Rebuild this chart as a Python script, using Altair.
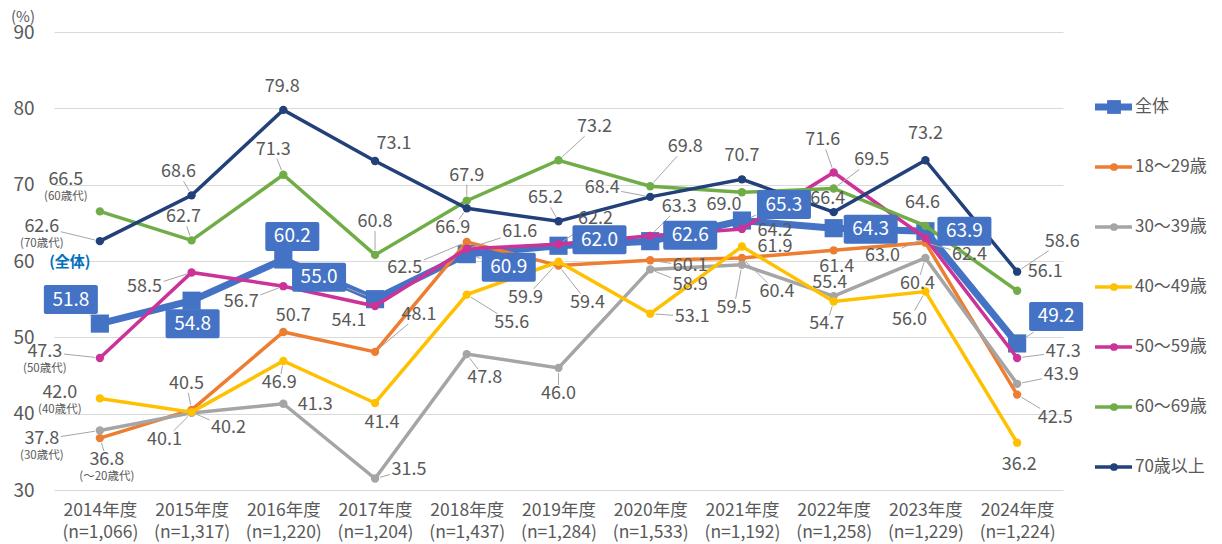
import json
import math
import pandas as pd
import altair as alt

# ---------------- data ----------------
years = ["2014年度", "2015年度", "2016年度", "2017年度", "2018年度", "2019年度",
         "2020年度", "2021年度", "2022年度", "2023年度", "2024年度"]
sample_sizes = ["(n=1,066)", "(n=1,317)", "(n=1,220)", "(n=1,204)", "(n=1,437)", "(n=1,284)",
                "(n=1,533)", "(n=1,192)", "(n=1,258)", "(n=1,229)", "(n=1,224)"]
series_names = ["全体", "18～29歳", "30～39歳", "40～49歳", "50～59歳", "60～69歳", "70歳以上"]

total     = [51.8, 54.8, 60.2, 55.0, 60.9, 62.0, 62.6, 65.3, 64.3, 63.9, 49.2]
age_18_29 = [36.8, 40.5, 50.7, 48.1, 62.5, 59.4, 60.1, 60.4, 61.4, 62.4, 42.5]
age_30_39 = [37.8, 40.1, 41.3, 31.5, 47.8, 46.0, 58.9, 59.5, 55.4, 60.4, 43.9]
age_40_49 = [42.0, 40.2, 46.9, 41.4, 55.6, 59.9, 53.1, 61.9, 54.7, 56.0, 36.2]
age_50_59 = [47.3, 58.5, 56.7, 54.1, 61.6, 62.2, 63.3, 64.2, 71.6, 63.0, 47.3]
age_60_69 = [66.5, 62.7, 71.3, 60.8, 67.9, 73.2, 69.8, 69.0, 69.5, 64.6, 56.1]
age_70_up = [62.6, 68.6, 79.8, 73.1, 66.9, 65.2, 68.4, 70.7, 66.4, 73.2, 58.6]

series_values = [total, age_18_29, age_30_39, age_40_49, age_50_59, age_60_69, age_70_up]
first_year_notes = ["", "(～20歳代)", "(30歳代)", "(40歳代)", "(50歳代)", "(60歳代)", "(70歳代)"]
unit_label = "(%)"

# ---------------- styles ----------------
colors = ["#4472C4", "#ED7D31", "#A5A5A5", "#FFC000", "#CC3399", "#70AD47", "#22407A"]
FONT = "Noto Sans CJK JP"
TEXT_COLOR = "#595959"

# label layout: pixel offset of each data label from its point (dx, dy, leader line?)
label_layout = [
    [(-29, -24, 1), (1, 23, 1), (9, -23, 1), (-56, -22, 1), (42, 13, 1), (41, -6, 0),
     (40, -6, 0), (42, -16, 1), (37, 1, 0), (39, 0, 0), (39, -27, 1)],
    [(7, 22, 1), (-5, -26, 1), (10, -16, 0), (44, -37, 1), (-62, 26, 1), (29, 37, 1),
     (40, 6, 1), (35, 34, 1), (3, 17, 0), (44, 12, 1), (38, 23, 1)],
    [(-58, 9, 1), (-27, 27, 1), (32, 1, 0), (34, -9, 1), (18, 24, 1), (0, 26, 1),
     (40, 16, 1), (-8, 43, 1), (-4, -13, 0), (-8, 26, 1), (44, -9, 1)],
    [(-40, -5, 0), (37, 16, 1), (-4, 22, 1), (7, 20, 0), (45, 28, 1), (-33, 36, 1),
     (42, 3, 1), (33, 1, 0), (-7, 23, 1), (-16, 28, 1), (2, 22, 0)],
    [(-55, -6, 1), (-47, 15, 1), (-42, 16, 1), (-26, 15, 0), (53, -17, 1), (37, -25, 1),
     (29, -29, 1), (33, 2, 0), (-11, -32, 1), (-43, 18, 1), (46, -6, 1)],
    [(-34, -31, 0), (-8, -23, 1), (-10, -25, 1), (0, -33, 1), (0, -25, 1), (36, -33, 1),
     (35, -39, 1), (-18, 13, 0), (38, -28, 1), (-3, -23, 0), (28, -19, 0)],
    [(-58, -14, 1), (-13, -23, 1), (-1, -23, 0), (19, -17, 0), (-14, 20, 1), (-13, -23, 1),
     (-48, -9, 1), (0, -23, 0), (-6, -13, 0), (0, -26, 0), (45, -30, 1)],
]

W, H = 1009, 458
XMIN, XMAX = -0.5, 10.5
YMIN, YMAX = 30, 90
PX_X = W / (XMAX - XMIN)
PX_Y = H / (YMAX - YMIN)
BOX_W, BOX_H = 54, 29

pts, labels, leaders, boxes, notes = [], [], [], [], []
for si, (name, vals) in enumerate(zip(series_names, series_values)):
    for i, v in enumerate(vals):
        pts.append({"series": name, "si": si, "xi": i, "value": v})
        dx, dy, lead = label_layout[si][i]
        lx = i + dx / PX_X
        ly = v - dy / PX_Y
        labels.append({"series": name, "si": si, "lx": lx, "ly": ly, "txt": f"{v:.1f}"})
        if si == 0:
            boxes.append({"bx1": lx - BOX_W / 2 / PX_X, "bx2": lx + BOX_W / 2 / PX_X,
                          "by1": ly - BOX_H / 2 / PX_Y, "by2": ly + BOX_H / 2 / PX_Y})
        if i == 0 and first_year_notes[si]:
            notes.append({"nx": lx, "ny": ly - 17 / PX_Y, "note": first_year_notes[si]})
        if lead:
            dist = math.hypot(dx, dy)
            hw, hh = (BOX_W / 2 + 1, BOX_H / 2 + 1) if si == 0 else (19, 9)
            t = min(hw / abs(dx) if dx else 1e9, hh / abs(dy) if dy else 1e9)
            ex, ey = dx * (1 - t), dy * (1 - t)
            s0 = (10 if si == 0 else 5) / dist
            sx, sy = dx * s0, dy * s0
            if math.hypot(ex, ey) > math.hypot(sx, sy) + 2:
                leaders.append({"x1": i + sx / PX_X, "y1": v - sy / PX_Y,
                                "x2": i + ex / PX_X, "y2": v - ey / PX_Y})

pts_df = pd.DataFrame(pts)
labels_df = pd.DataFrame(labels)
leaders_df = pd.DataFrame(leaders)
boxes_df = pd.DataFrame(boxes)
notes_df = pd.DataFrame(notes)
total_note = pd.DataFrame([{"nx": 0 - 30 / PX_X, "ny": total[0] + 62 / PX_Y, "note": "(全体)"}])
unit_df = pd.DataFrame([{"nx": XMIN - 43 / PX_X, "ny": YMAX + 15 / PX_Y, "note": unit_label}])

x_label_expr = ("[" + json.dumps(years, ensure_ascii=False) + "[datum.value], "
                + json.dumps(sample_sizes, ensure_ascii=False) + "[datum.value]]")

xscale = alt.Scale(domain=[XMIN, XMAX], nice=False, zero=False)
yscale = alt.Scale(domain=[YMIN, YMAX], nice=False, zero=False)
xaxis = alt.Axis(values=list(range(11)), labelExpr=x_label_expr, title=None, grid=False,
                 domain=False, ticks=False, labelPadding=11, labelFontSize=17.5,
                 labelLineHeight=22, labelColor=TEXT_COLOR, labelFont=FONT)
yaxis = alt.Axis(values=list(range(30, 91, 10)), title=None,
                 grid=True, gridColor="#D9D9D9", gridWidth=1, domain=False, ticks=False,
                 labelPadding=20, labelFontSize=19, labelColor=TEXT_COLOR, labelFont=FONT)


def X(field):
    return alt.X(f"{field}:Q", scale=xscale, axis=xaxis)


def Y(field):
    return alt.Y(f"{field}:Q", scale=yscale, axis=yaxis)


layers = []
for si, name in enumerate(series_names):
    sdf = pts_df[pts_df["si"] == si]
    base = alt.Chart(sdf)
    layers.append(base.mark_line(color=colors[si], strokeWidth=7 if si == 0 else 3.5)
                  .encode(x=X("xi"), y=Y("value")))
    layers.append(base.mark_point(filled=True, opacity=1, color=colors[si],
                                  shape="square" if si == 0 else "circle",
                                  size=330 if si == 0 else 70)
                  .encode(x=X("xi"), y=Y("value")))

layers.append(alt.Chart(leaders_df).mark_rule(color="#A6A6A6", strokeWidth=1)
              .encode(x=X("x1"), y=Y("y1"), x2="x2:Q", y2="y2:Q"))
layers.append(alt.Chart(boxes_df).mark_rect(color="#4472C4", cornerRadius=2)
              .encode(x=X("bx1"), x2="bx2:Q", y=Y("by1"), y2="by2:Q"))
layers.append(alt.Chart(labels_df[labels_df["si"] == 0])
              .mark_text(color="white", fontSize=19, font=FONT, align="center", baseline="middle")
              .encode(x=X("lx"), y=Y("ly"), text="txt:N"))
layers.append(alt.Chart(labels_df[labels_df["si"] > 0])
              .mark_text(color=TEXT_COLOR, fontSize=18, font=FONT, align="center", baseline="middle")
              .encode(x=X("lx"), y=Y("ly"), text="txt:N"))
layers.append(alt.Chart(notes_df)
              .mark_text(color=TEXT_COLOR, fontSize=11.5, font=FONT, align="center", baseline="middle")
              .encode(x=X("nx"), y=Y("ny"), text="note:N"))
layers.append(alt.Chart(total_note)
              .mark_text(color="#0070C0", fontSize=15, fontWeight="bold", font=FONT,
                         align="center", baseline="middle")
              .encode(x=X("nx"), y=Y("ny"), text="note:N"))
layers.append(alt.Chart(unit_df)
              .mark_text(color=TEXT_COLOR, fontSize=15, font=FONT, align="left", baseline="middle")
              .encode(x=X("nx"), y=Y("ny"), text="note:N"))

main = alt.layer(*layers)

# ---------------- legend ----------------
legend_df = pd.DataFrame({
    "name": series_names,
    "sw": [7] + [3.5] * 6,
    "shape": ["square"] + ["circle"] * 6,
    "sz": [190] + [60] * 6,
})
leg_y = alt.Y("name:N", scale=alt.Scale(domain=series_names, range=[45, 465]), axis=None)
leg_color = alt.Color("name:N", scale=alt.Scale(domain=series_names, range=colors), legend=None)
leg_base = alt.Chart(legend_df)
legend = alt.layer(
    leg_base.mark_rule().encode(x=alt.value(1041), x2=alt.value(1078), y=leg_y, color=leg_color,
                                strokeWidth=alt.StrokeWidth("sw:Q", scale=None)),
    leg_base.mark_point(filled=True, opacity=1).encode(
        x=alt.value(1060), y=leg_y, color=leg_color,
        shape=alt.Shape("shape:N", scale=None), size=alt.Size("sz:Q", scale=None)),
    leg_base.mark_text(align="left", baseline="middle", fontSize=17, font=FONT,
                       color=TEXT_COLOR).encode(x=alt.value(1081), y=leg_y, text="name:N"),
)

chart = (
    alt.layer(main, legend)
    .resolve_scale(y="independent", color="independent")
    .properties(width=W, height=H, background="white",
                padding={"left": 3, "top": 2, "right": 5, "bottom": 12})
    .configure_view(stroke=None)
)

chart.save("out.html", embed_options={"renderer": "svg", "actions": False})
